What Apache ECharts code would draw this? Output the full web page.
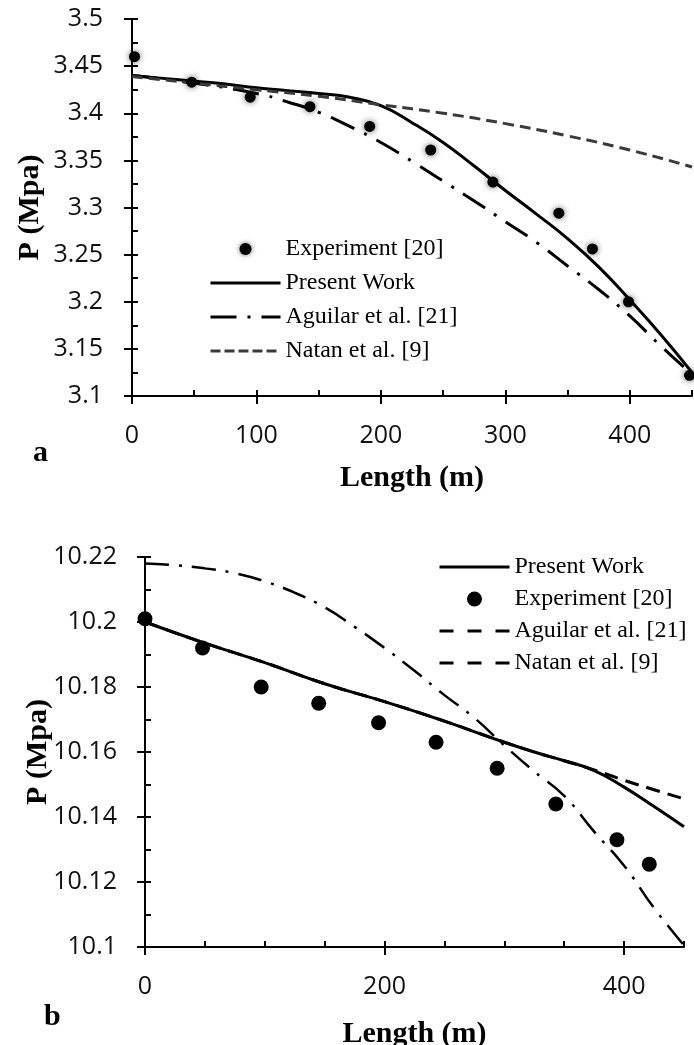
<!DOCTYPE html>
<html>
<head>
<meta charset="utf-8">
<script src="https://cdn.jsdelivr.net/npm/echarts@6/dist/echarts.min.js"></script>
<style>
html,body{margin:0;padding:0;background:#fff;}
#main{width:694px;height:1045px;}
</style>
</head>
<body>
<div id="main"></div>
<script>
// ---- chart a ----
var xTicksA = [0, 100, 200, 300, 400];
var yTicksA = [3.1, 3.15, 3.2, 3.25, 3.3, 3.35, 3.4, 3.45, 3.5];

var expAx = [2, 48, 95, 143, 191, 240, 290, 343, 370, 399, 448];
var expAy = [3.46, 3.433, 3.417, 3.407, 3.386, 3.361, 3.327, 3.294, 3.256, 3.2, 3.122];

var presentAx = [0, 25, 50, 75, 100, 125, 150, 175, 200, 225, 250, 275, 300, 325, 350, 375, 400, 425, 450];
var presentAy = [3.44, 3.437, 3.434, 3.431, 3.427, 3.424, 3.421, 3.417, 3.408, 3.39, 3.369, 3.344, 3.318, 3.293, 3.267, 3.237, 3.202, 3.165, 3.125];

var aguilarAx = [0, 50, 100, 125, 150, 175, 200, 225, 250, 275, 300, 325, 350, 375, 400, 425, 450];
var aguilarAy = [3.44, 3.432, 3.421, 3.412, 3.401, 3.386, 3.369, 3.349, 3.328, 3.307, 3.285, 3.263, 3.238, 3.213, 3.185, 3.153, 3.123];

var natanAx = [0, 50, 100, 150, 200, 250, 300, 350, 400, 450];
var natanAy = [3.439, 3.432, 3.425, 3.418, 3.409, 3.4, 3.389, 3.376, 3.361, 3.343];

// ---- chart b ----
var xTicksB = [0, 200, 400];
var yTicksB = [10.1, 10.12, 10.14, 10.16, 10.18, 10.2, 10.22];

var expBx = [0, 48, 97, 145, 195, 243, 294, 343, 394, 421];
var expBy = [10.201, 10.192, 10.18, 10.175, 10.169, 10.163, 10.155, 10.144, 10.133, 10.1255];

var presentBx = [0, 50, 100, 150, 200, 250, 300, 325, 350, 375, 400, 425, 450];
var presentBy = [10.2, 10.1935, 10.1875, 10.181, 10.1755, 10.1695, 10.163, 10.16, 10.1573, 10.1543, 10.1492, 10.1432, 10.137];

var aguilarBx = [0, 25, 50, 75, 100, 125, 150, 175, 200, 225, 250, 275, 300, 325, 350, 375, 400, 425, 450];
var aguilarBy = [10.218, 10.2175, 10.2165, 10.215, 10.2125, 10.209, 10.2045, 10.1985, 10.192, 10.185, 10.1775, 10.1705, 10.162, 10.154, 10.1465, 10.1355, 10.125, 10.112, 10.1005];

var natanBx = [0, 50, 100, 150, 200, 250, 300, 325, 350, 375, 400, 425, 450];
var natanBy = [10.2, 10.1935, 10.1875, 10.181, 10.1755, 10.1695, 10.163, 10.16, 10.1573, 10.1545, 10.1513, 10.1484, 10.1456];

function zip(xs, ys) {
    return xs.map(function (x, i) { return [x, ys[i]]; });
}

var tickFont = {fontFamily: 'Open Sans', fontSize: 25, color: '#111'};
var serif = 'Liberation Serif, Times New Roman, serif';
var fmt = function (v) { return String(parseFloat(v.toFixed(4))); };

// axis with labels + major ticks going outward
function mainAxis(dim, grid, min, max, ticks, margin, name, nameGap) {
    return {
        type: 'value', gridIndex: grid, min: min, max: max,
        interval: ticks[1] - ticks[0],
        position: dim == 'x' ? 'bottom' : 'left',
        axisLine: {onZero: false, lineStyle: {color: '#000', width: 2}},
        axisTick: {show: true, inside: false, length: 8, customValues: ticks, lineStyle: {color: '#000', width: 2}},
        axisLabel: Object.assign({customValues: ticks, margin: margin, formatter: fmt}, tickFont),
        splitLine: {show: false},
        name: name, nameLocation: 'middle', nameGap: nameGap, nameMoveOverlap: false,
        nameTextStyle: {fontFamily: serif, fontWeight: 'bold', fontSize: 30, color: '#000'}
    };
}
// overlay axis: only inner (minor) ticks
function innerAxis(dim, grid, min, max, step) {
    return {
        type: 'value', gridIndex: grid, min: min, max: max, interval: step,
        position: dim == 'x' ? 'bottom' : 'left',
        axisLine: {show: false, onZero: false},
        axisTick: {show: true, inside: true, length: 6, lineStyle: {color: '#000', width: 2}},
        axisLabel: {show: false},
        splitLine: {show: false}
    };
}

function lineSeries(name, xi, data, style) {
    return {
        name: name, type: 'line', xAxisIndex: xi, yAxisIndex: xi,
        data: data, symbol: 'none', smooth: 0.5,
        itemStyle: {color: style.color},
        lineStyle: style, z: 2
    };
}

// legend entry for a line: hide the dot drawn in the middle of the icon
function lineItem(name, color, type) {
    return {name: name, itemStyle: {opacity: 0}, lineStyle: {color: color, type: type, width: 3}};
}

var myChart = echarts.init(document.getElementById('main'));
myChart.setOption({
    animation: false,
    backgroundColor: '#fff',
    grid: [
        {left: 132, top: 19, width: 560, height: 377, outerBoundsMode: 'none'},
        {left: 145, top: 557, width: 539, height: 390, outerBoundsMode: 'none'}
    ],
    xAxis: [
        mainAxis('x', 0, 0, 450, xTicksA, 27, 'Length (m)', 67),
        innerAxis('x', 0, 0, 450, 50),
        mainAxis('x', 1, 0, 450, xTicksB, 27, 'Length (m)', 72),
        innerAxis('x', 1, 0, 450, 50)
    ],
    yAxis: [
        mainAxis('y', 0, 3.1, 3.5, yTicksA, 29, 'P (Mpa)', 87),
        innerAxis('y', 0, 3.1, 3.5, 0.025),
        mainAxis('y', 1, 10.1, 10.22, yTicksB, 28, 'P (Mpa)', 92),
        innerAxis('y', 1, 10.1, 10.22, 0.01)
    ],
    legend: [
        {
            orient: 'vertical', left: 209, top: 237, padding: 0,
            itemWidth: 70, itemHeight: 12, itemGap: 10,
            textStyle: {fontFamily: serif, fontSize: 24, color: '#000'},
            data: [
                {name: 'Experiment [20]', icon: 'circle', itemStyle: {color: '#000', opacity: 1, shadowBlur: 5, shadowColor: 'rgba(0,0,0,0.6)'}},
                lineItem('Present Work', '#000', 'solid'),
                lineItem('Aguilar et al. [21]', '#000', [26, 11, 3, 11]),
                lineItem('Natan et al. [9]', '#3a3a3a', [10, 4])
            ]
        },
        {
            orient: 'vertical', left: 438, top: 555, padding: 0,
            itemWidth: 70, itemHeight: 15, itemGap: 8,
            textStyle: {fontFamily: serif, fontSize: 24, color: '#000'},
            data: [
                lineItem('Present Work', '#000', 'solid'),
                {name: 'Experiment [20]', icon: 'circle', itemStyle: {color: '#000', opacity: 1, shadowBlur: 0}},
                lineItem('Aguilar et al. [21]', '#000', [14, 14]),
                lineItem('Natan et al. [9]', '#000', [14, 14])
            ]
        }
    ],
    graphic: [
        {type: 'text', left: 33, top: 438, style: {text: 'a', font: 'bold 30px ' + serif, fill: '#000'}},
        {type: 'text', left: 44, top: 1002, style: {text: 'b', font: 'bold 30px ' + serif, fill: '#000'}}
    ],
    series: [
        lineSeries('Present Work', 0, zip(presentAx, presentAy), {color: '#000', width: 3}),
        lineSeries('Aguilar et al. [21]', 0, zip(aguilarAx, aguilarAy), {color: '#000', width: 3, type: [26, 11, 3, 11]}),
        lineSeries('Natan et al. [9]', 0, zip(natanAx, natanAy), {color: '#3a3a3a', width: 3, type: [11, 6]}),
        {
            name: 'Experiment [20]', type: 'scatter', xAxisIndex: 0, yAxisIndex: 0,
            data: zip(expAx, expAy), symbolSize: 11, clip: false, z: 5,
            itemStyle: {color: '#000', opacity: 1, shadowBlur: 6, shadowColor: 'rgba(0,0,0,0.6)'}
        },
        lineSeries('Present Work', 2, zip(presentBx, presentBy), {color: '#000', width: 3}),
        lineSeries('Aguilar et al. [21]', 2, zip(aguilarBx, aguilarBy), {color: '#000', width: 2.5, type: [24, 10, 3, 10]}),
        lineSeries('Natan et al. [9]', 2, zip(natanBx, natanBy), {color: '#000', width: 3, type: [14, 8]}),
        {
            name: 'Experiment [20]', type: 'scatter', xAxisIndex: 2, yAxisIndex: 2,
            data: zip(expBx, expBy), symbolSize: 15, clip: false, z: 5,
            itemStyle: {color: '#000', opacity: 1}
        }
    ]
});
</script>
</body>
</html>
